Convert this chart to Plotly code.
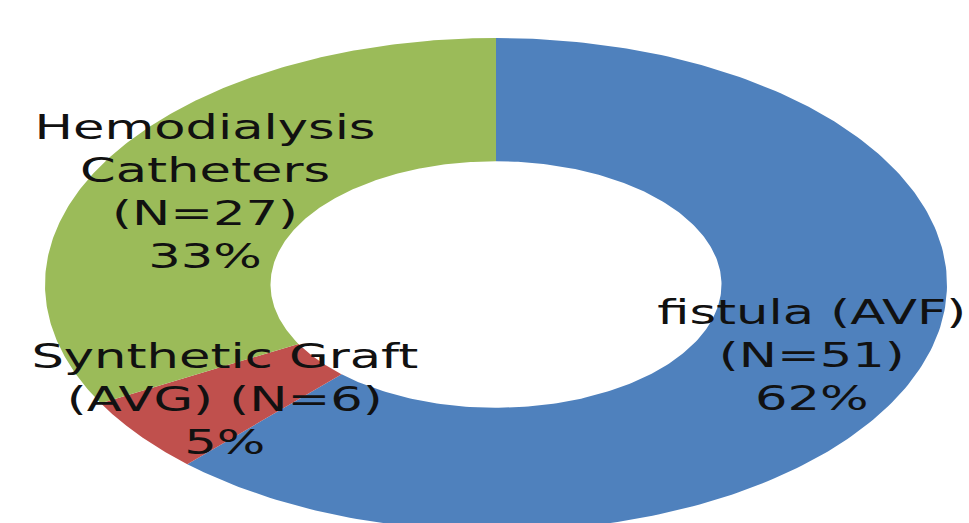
import numpy as np
import plotly.graph_objects as go

# ---- data ----
categories = ["fistula (AVF)", "Synthetic Graft (AVG)", "Hemodialysis Catheters"]
counts = [51, 6, 27]
percents = [62, 5, 33]
label_lines = [
    ["fistula (AVF)", "(N=51)", "62%"],
    ["Synthetic Graft", "(AVG) (N=6)", "5%"],
    ["Hemodialysis", "Catheters", "(N=27)", "33%"],
]
colors = ["#4F81BD", "#C0504D", "#9BBB59"]
hole = 0.5

# label block centres (paper fractions)
label_pos = [(811 / 969, 1 - 355 / 523), (225 / 969, 1 - 399 / 523), (205 / 969, 1 - 192 / 523)]

# ---- geometry: donut drawn in data units on stretched axes ----
W, H = 969, 523
cx, cy, rx, ry = 496, 284.5, 451, 246.5

fig = go.Figure()
total = float(sum(percents))
start = 0.0
for cat, val, col in zip(categories, percents, colors):
    end = start + val / total
    t = np.linspace(start, end, 240) * 2 * np.pi
    xo, yo = np.sin(t), np.cos(t)
    xi, yi = hole * np.sin(t[::-1]), hole * np.cos(t[::-1])
    xs = np.concatenate([xo, xi, xo[:1]])
    ys = np.concatenate([yo, yi, yo[:1]])
    fig.add_trace(go.Scatter(x=xs, y=ys, mode="lines", fill="toself",
                             fillcolor=col, line=dict(width=0, color=col),
                             name=cat, hoverinfo="name"))
    start = end

for lines, (px, py) in zip(label_lines, label_pos):
    fig.add_annotation(x=px, y=py, xref="paper", yref="paper",
                       text="<br>".join(lines), showarrow=False,
                       xanchor="center", yanchor="middle", align="center",
                       font=dict(family="DejaVu Sans", size=33, color="#111111"))

fig.update_xaxes(visible=False, range=[-cx / rx, (W - cx) / rx], fixedrange=True)
fig.update_yaxes(visible=False, range=[-(H - cy) / ry, cy / ry], fixedrange=True)
fig.update_layout(width=W, height=H, margin=dict(l=0, r=0, t=0, b=0),
                  paper_bgcolor="white", plot_bgcolor="white", showlegend=False)

# the source image is horizontally stretched: widen the label glyphs to match
stretch_js = """
var gd = document.getElementById('{plot_id}');
gd.querySelectorAll('.annotation-text').forEach(function(t){
  var b = t.getBBox();
  var c = b.x + b.width / 2;
  t.setAttribute('transform', 'translate(' + c + ',0) scale(1.55,1) translate(' + (-c) + ',0)');
});
"""

fig.write_html("out.html", post_script=stretch_js)
